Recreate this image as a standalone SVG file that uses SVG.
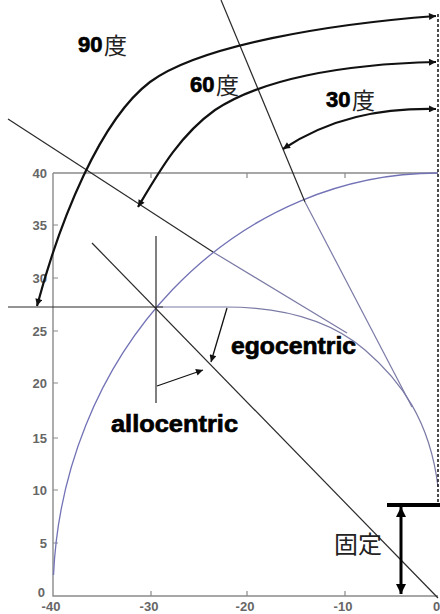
<svg xmlns="http://www.w3.org/2000/svg" width="440" height="614" viewBox="0 0 440 614">
<style>
.axis{stroke:#8a8a8a;stroke-width:1.4;fill:none}
.tick{stroke:#8a8a8a;stroke-width:1.2}
.tl{font-family:"Liberation Sans",Arial,sans-serif;font-size:13px;font-weight:bold;fill:#666}
.blue{stroke:#7272b6;stroke-width:1.3;fill:none}
.bluegray{stroke:#7a7aa6;stroke-width:1.2;fill:none}
.thin{stroke:#2a2a2a;stroke-width:1.2;fill:none}
.arc{stroke:#111;stroke-width:2.2;fill:none;marker-start:url(#ah);marker-end:url(#ah)}
.ptr{stroke:#111;stroke-width:1.3;fill:none;marker-end:url(#ahs)}
.lbl{font-family:"Liberation Sans",Arial,sans-serif;font-weight:bold;fill:#000;stroke:#000;stroke-width:0.7}
.cjk{font-family:"Noto Sans CJK JP","Noto Sans CJK SC",sans-serif;fill:#222}
</style>
<defs>
<marker id="ah" viewBox="0 0 10 10" refX="10" refY="5" markerWidth="10" markerHeight="7" markerUnits="userSpaceOnUse" orient="auto-start-reverse"><path d="M0,0 L10,5 L0,10 z" fill="#111"/></marker>
<marker id="ahs" viewBox="0 0 10 10" refX="10" refY="5" markerWidth="9" markerHeight="7" markerUnits="userSpaceOnUse" orient="auto"><path d="M0,0 L10,5 L0,10 z" fill="#111"/></marker>
<marker id="ahb" viewBox="0 0 10 10" refX="10" refY="5" markerWidth="12" markerHeight="10" markerUnits="userSpaceOnUse" orient="auto-start-reverse"><path d="M0,0 L10,5 L0,10 z" fill="#000"/></marker>
</defs>
<rect width="440" height="614" fill="#fff"/>

<g id="axes">
<path class="axis" d="M53,173 L438,173 M53,173 L53,596 L438,596"/>
<path class="tick" d="M53,225 h5 M53,278 h5 M53,331 h5 M53,383 h5 M53,438 h5 M53,490 h5 M53,543 h5 M151,173 v5 M247,173 v5 M345,173 v5 M151,596 v-5 M247,596 v-5 M345,596 v-5"/>
<g text-anchor="end">
<text class="tl" x="47" y="178">40</text>
<text class="tl" x="47" y="230">35</text>
<text class="tl" x="47" y="283">30</text>
<text class="tl" x="47" y="336">25</text>
<text class="tl" x="47" y="388">20</text>
<text class="tl" x="47" y="443">15</text>
<text class="tl" x="47" y="495">10</text>
<text class="tl" x="47" y="548">5</text>
<text class="tl" x="45" y="597">0</text>
</g>
<g text-anchor="middle">
<text class="tl" x="51" y="611">-40</text>
<text class="tl" x="149" y="611">-30</text>
<text class="tl" x="245" y="611">-20</text>
<text class="tl" x="343" y="611">-10</text>
</g>
<text class="tl" x="433" y="611">0</text>
</g>

<g id="curves">
<path id="circle" class="blue" d="M53.5,575 A385,423 0 0 1 438,173"/>
<path id="egocentric-curve" class="bluegray" d="M156,307 L225,307 C280,307 330,320 365,350 C400,380 430,420 438,487"/>
</g>

<g id="connectors">
<path id="lineA-black" class="thin" d="M221,0 L305,202"/>
<path id="lineA-blue" class="bluegray" d="M305,202 L412,407"/>
<path id="lineB-black" class="thin" d="M8,119 L213,252"/>
<path id="lineB-blue" class="bluegray" d="M213,252 L347,333"/>
<path id="lineC" class="thin" d="M92,243 L438,598"/>
<path id="hline" class="thin" d="M8,307 L163,307"/>
<path id="vline" class="thin" d="M156,236 L156,403"/>
<path id="dashed" d="M438,14 L438,504" stroke="#111" stroke-width="1.5" stroke-dasharray="3,2" fill="none"/>
<path id="arrow90" class="arc" d="M436,16 C330,24 200,45 150,82 C100,120 60,220 37,306"/>
<path id="arrow60" class="arc" d="M436,62 C340,64 260,80 215,110 C180,135 160,170 138,207"/>
<path id="arrow30" class="arc" d="M436,109 C380,108 330,118 283,149"/>
<path id="ptr-ego" class="ptr" d="M227,308 L211,362"/>
<path id="ptr-allo" class="ptr" d="M157,386 L203,370"/>
<path id="fix-bar" d="M387,505 L440,505" stroke="#000" stroke-width="4"/>
<path id="fix-arrow" d="M401,507 L401,594" stroke="#000" stroke-width="3" marker-start="url(#ahb)" marker-end="url(#ahb)"/>
</g>

<g id="label-90"><text class="lbl" x="78" y="52" font-size="22">90</text><text class="cjk" x="104" y="54" font-size="23">度</text></g>
<g id="label-60"><text class="lbl" x="190" y="92" font-size="22">60</text><text class="cjk" x="216" y="94" font-size="23">度</text></g>
<g id="label-30"><text class="lbl" x="326" y="107" font-size="22">30</text><text class="cjk" x="352" y="109" font-size="23">度</text></g>
<g id="label-ego"><text class="lbl" x="231" y="354" font-size="24" textLength="125" lengthAdjust="spacingAndGlyphs">egocentric</text></g>
<g id="label-allo"><text class="lbl" x="111" y="432" font-size="24" textLength="127" lengthAdjust="spacingAndGlyphs">allocentric</text></g>
<g id="label-fix"><text class="cjk" x="334" y="553" font-size="24">固定</text></g>
</svg>
